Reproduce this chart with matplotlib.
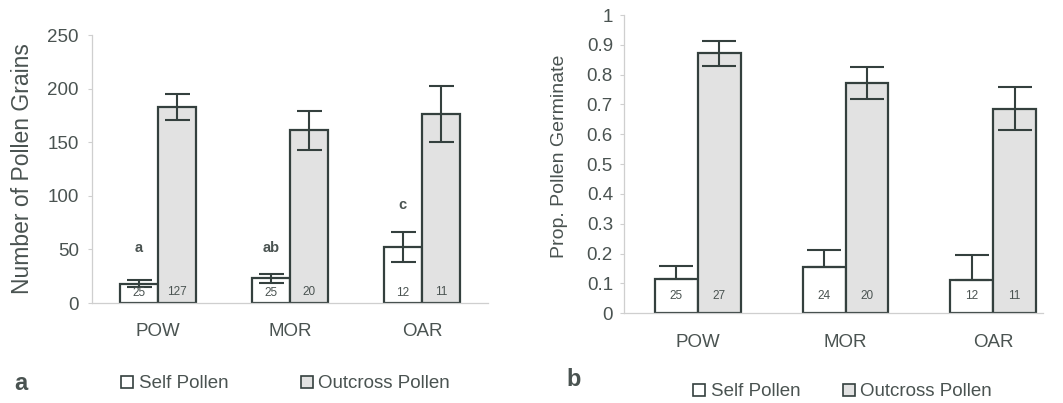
import matplotlib
matplotlib.use("Agg")
import matplotlib.pyplot as plt
import numpy as np
from matplotlib.patches import Rectangle
from matplotlib.transforms import Bbox, TransformedBbox
from matplotlib.ticker import FuncFormatter

plt.rcParams['font.family'] = ['Liberation Sans', 'DejaVu Sans']

# ---------------- data ----------------
sites = ["POW", "MOR", "OAR"]

# panel a: number of pollen grains
a_self = [18, 23, 52]
a_self_err = [3, 4, 14]
a_out = [183, 161, 176]
a_out_err = [12, 18, 26]
a_n_self = ["25", "25", "12"]
a_n_out = ["127", "20", "11"]
a_letters = ["a", "ab", "c"]
a_letter_y = [51, 51, 91]

# panel b: proportion pollen germinated
b_self = [0.115, 0.155, 0.112]
b_self_err = [0.042, 0.057, 0.082]
b_out = [0.872, 0.772, 0.686]
b_out_err = [0.042, 0.055, 0.073]
b_n_self = ["25", "24", "12"]
b_n_out = ["27", "20", "11"]

legend_labels = ["Self Pollen", "Outcross Pollen"]

# ---------------- style ----------------
W, H = 1063, 403
TXT = '#4a5351'
EDGE = '#34403e'
OUTFILL = '#e2e2e2'
AXC = '#cfcfcf'
BW = 0.29

fig = plt.figure(figsize=(W / 100, H / 100), dpi=100)


def fx(px):
    return px / W


def fy(py):
    return 1 - py / H


def style_axes(ax, pad_y, pad_x):
    for s in ['top', 'right']:
        ax.spines[s].set_visible(False)
    ax.spines['left'].set_color(AXC)
    ax.spines['bottom'].set_color(AXC)
    ax.spines['left'].set_linewidth(0.9)
    ax.spines['bottom'].set_linewidth(0.9)
    ax.tick_params(axis='y', length=3, color=AXC, labelsize=13.5,
                   labelcolor=TXT, pad=pad_y)
    ax.tick_params(axis='x', length=0, labelsize=13.5, labelcolor=TXT, pad=pad_x)


x = np.arange(len(sites))

# ---------------- panel a ----------------
axa = fig.add_axes([fx(92), fy(303), fx(488) - fx(92), fy(35) - fy(303)])
axa.bar(x - BW / 2, a_self, BW, color='white', edgecolor=EDGE, linewidth=1.6, zorder=2)
axa.bar(x + BW / 2, a_out, BW, color=OUTFILL, edgecolor=EDGE, linewidth=1.6, zorder=2)
axa.errorbar(x - BW / 2, a_self, yerr=a_self_err, fmt='none', ecolor=EDGE,
             elinewidth=1.5, capsize=9, capthick=1.5, zorder=3)
axa.errorbar(x + BW / 2, a_out, yerr=a_out_err, fmt='none', ecolor=EDGE,
             elinewidth=1.5, capsize=9, capthick=1.5, zorder=3)
for i in range(len(sites)):
    axa.text(x[i] - BW / 2, 9, a_n_self[i], ha='center', va='center',
             fontsize=8.5, color=TXT, zorder=4)
    axa.text(x[i] + BW / 2, 10, a_n_out[i], ha='center', va='center',
             fontsize=8.5, color=TXT, zorder=4)
    axa.text(x[i] - BW / 2, a_letter_y[i], a_letters[i], ha='center',
             va='center', fontsize=10.5, fontweight='bold', color=TXT)
axa.set_xlim(-0.5, 2.5)
axa.set_ylim(0, 250)
axa.set_yticks([0, 50, 100, 150, 200, 250])
axa.set_xticks(x)
axa.set_xticklabels(sites)
style_axes(axa, 6.5, 14.5)
axa.set_ylabel("Number of Pollen Grains", fontsize=16.5, color=TXT)
axa.yaxis.set_label_coords((34 - 92) / 396, 0.5)

# ---------------- panel b ----------------
axb = fig.add_axes([fx(624), fy(313.3), fx(1043) - fx(624), fy(15) - fy(313.3)])
axb.bar(x - BW / 2, b_self, BW, color='white', edgecolor=EDGE, linewidth=1.6, zorder=2)
axb.bar(x + BW / 2, b_out, BW, color=OUTFILL, edgecolor=EDGE, linewidth=1.6, zorder=2)
axb.errorbar(x - BW / 2, b_self, yerr=[np.zeros(3), b_self_err], fmt='none',
             ecolor=EDGE, elinewidth=1.5, capsize=12, capthick=1.5, zorder=3)
axb.errorbar(x + BW / 2, b_out, yerr=b_out_err, fmt='none', ecolor=EDGE,
             elinewidth=1.5, capsize=12, capthick=1.5, zorder=3)
for i in range(len(sites)):
    axb.text(x[i] - BW / 2, 0.058, b_n_self[i], ha='center', va='center',
             fontsize=8.5, color=TXT, zorder=4)
    axb.text(x[i] + BW / 2, 0.058, b_n_out[i], ha='center', va='center',
             fontsize=8.5, color=TXT, zorder=4)
axb.set_xlim(-0.5, 2.337)
axb.set_ylim(0, 1)
axb.set_yticks(np.round(np.arange(0, 1.01, 0.1), 1))
axb.yaxis.set_major_formatter(FuncFormatter(lambda v, p: f"{v:g}"))
axb.set_xticks(x)
axb.set_xticklabels(sites)
style_axes(axb, 5, 15)

# clipped y label for panel b (cut off like the original text box)
yl = fig.text(fx(559), fy(258), "Prop. Pollen Germinated", rotation=90,
              rotation_mode='anchor', ha='left', va='center', fontsize=14,
              color=TXT)
yl.set_clip_box(TransformedBbox(Bbox([[fx(540), fy(300)], [fx(580), fy(56)]]),
                                fig.transFigure))
yl.set_clip_on(True)

# ---------------- panel letters ----------------
fig.text(fx(14), fy(383), "a", fontsize=17, fontweight='bold', color=TXT,
         ha='left', va='center')
fig.text(fx(566), fy(380), "b", fontsize=17, fontweight='bold', color=TXT,
         ha='left', va='center')

# ---------------- legends ----------------
handles = [Rectangle((0, 0), 1, 1, facecolor='white', edgecolor=EDGE, linewidth=1.2),
           Rectangle((0, 0), 1, 1, facecolor=OUTFILL, edgecolor=EDGE, linewidth=1.2)]

fig.legend(handles, legend_labels, loc='center left',
           bbox_to_anchor=(fx(121), fy(384)), bbox_transform=fig.transFigure,
           ncol=2, frameon=False, fontsize=13.5, handlelength=0.65,
           handleheight=0.65, handletextpad=0.3, columnspacing=3.85,
           borderpad=0, borderaxespad=0, labelcolor=TXT)
fig.legend(handles, legend_labels, loc='center left',
           bbox_to_anchor=(fx(693), fy(392)), bbox_transform=fig.transFigure,
           ncol=2, frameon=False, fontsize=13.5, handlelength=0.65,
           handleheight=0.65, handletextpad=0.3, columnspacing=2.25,
           borderpad=0, borderaxespad=0, labelcolor=TXT)

fig.savefig("out.png", dpi=100)
